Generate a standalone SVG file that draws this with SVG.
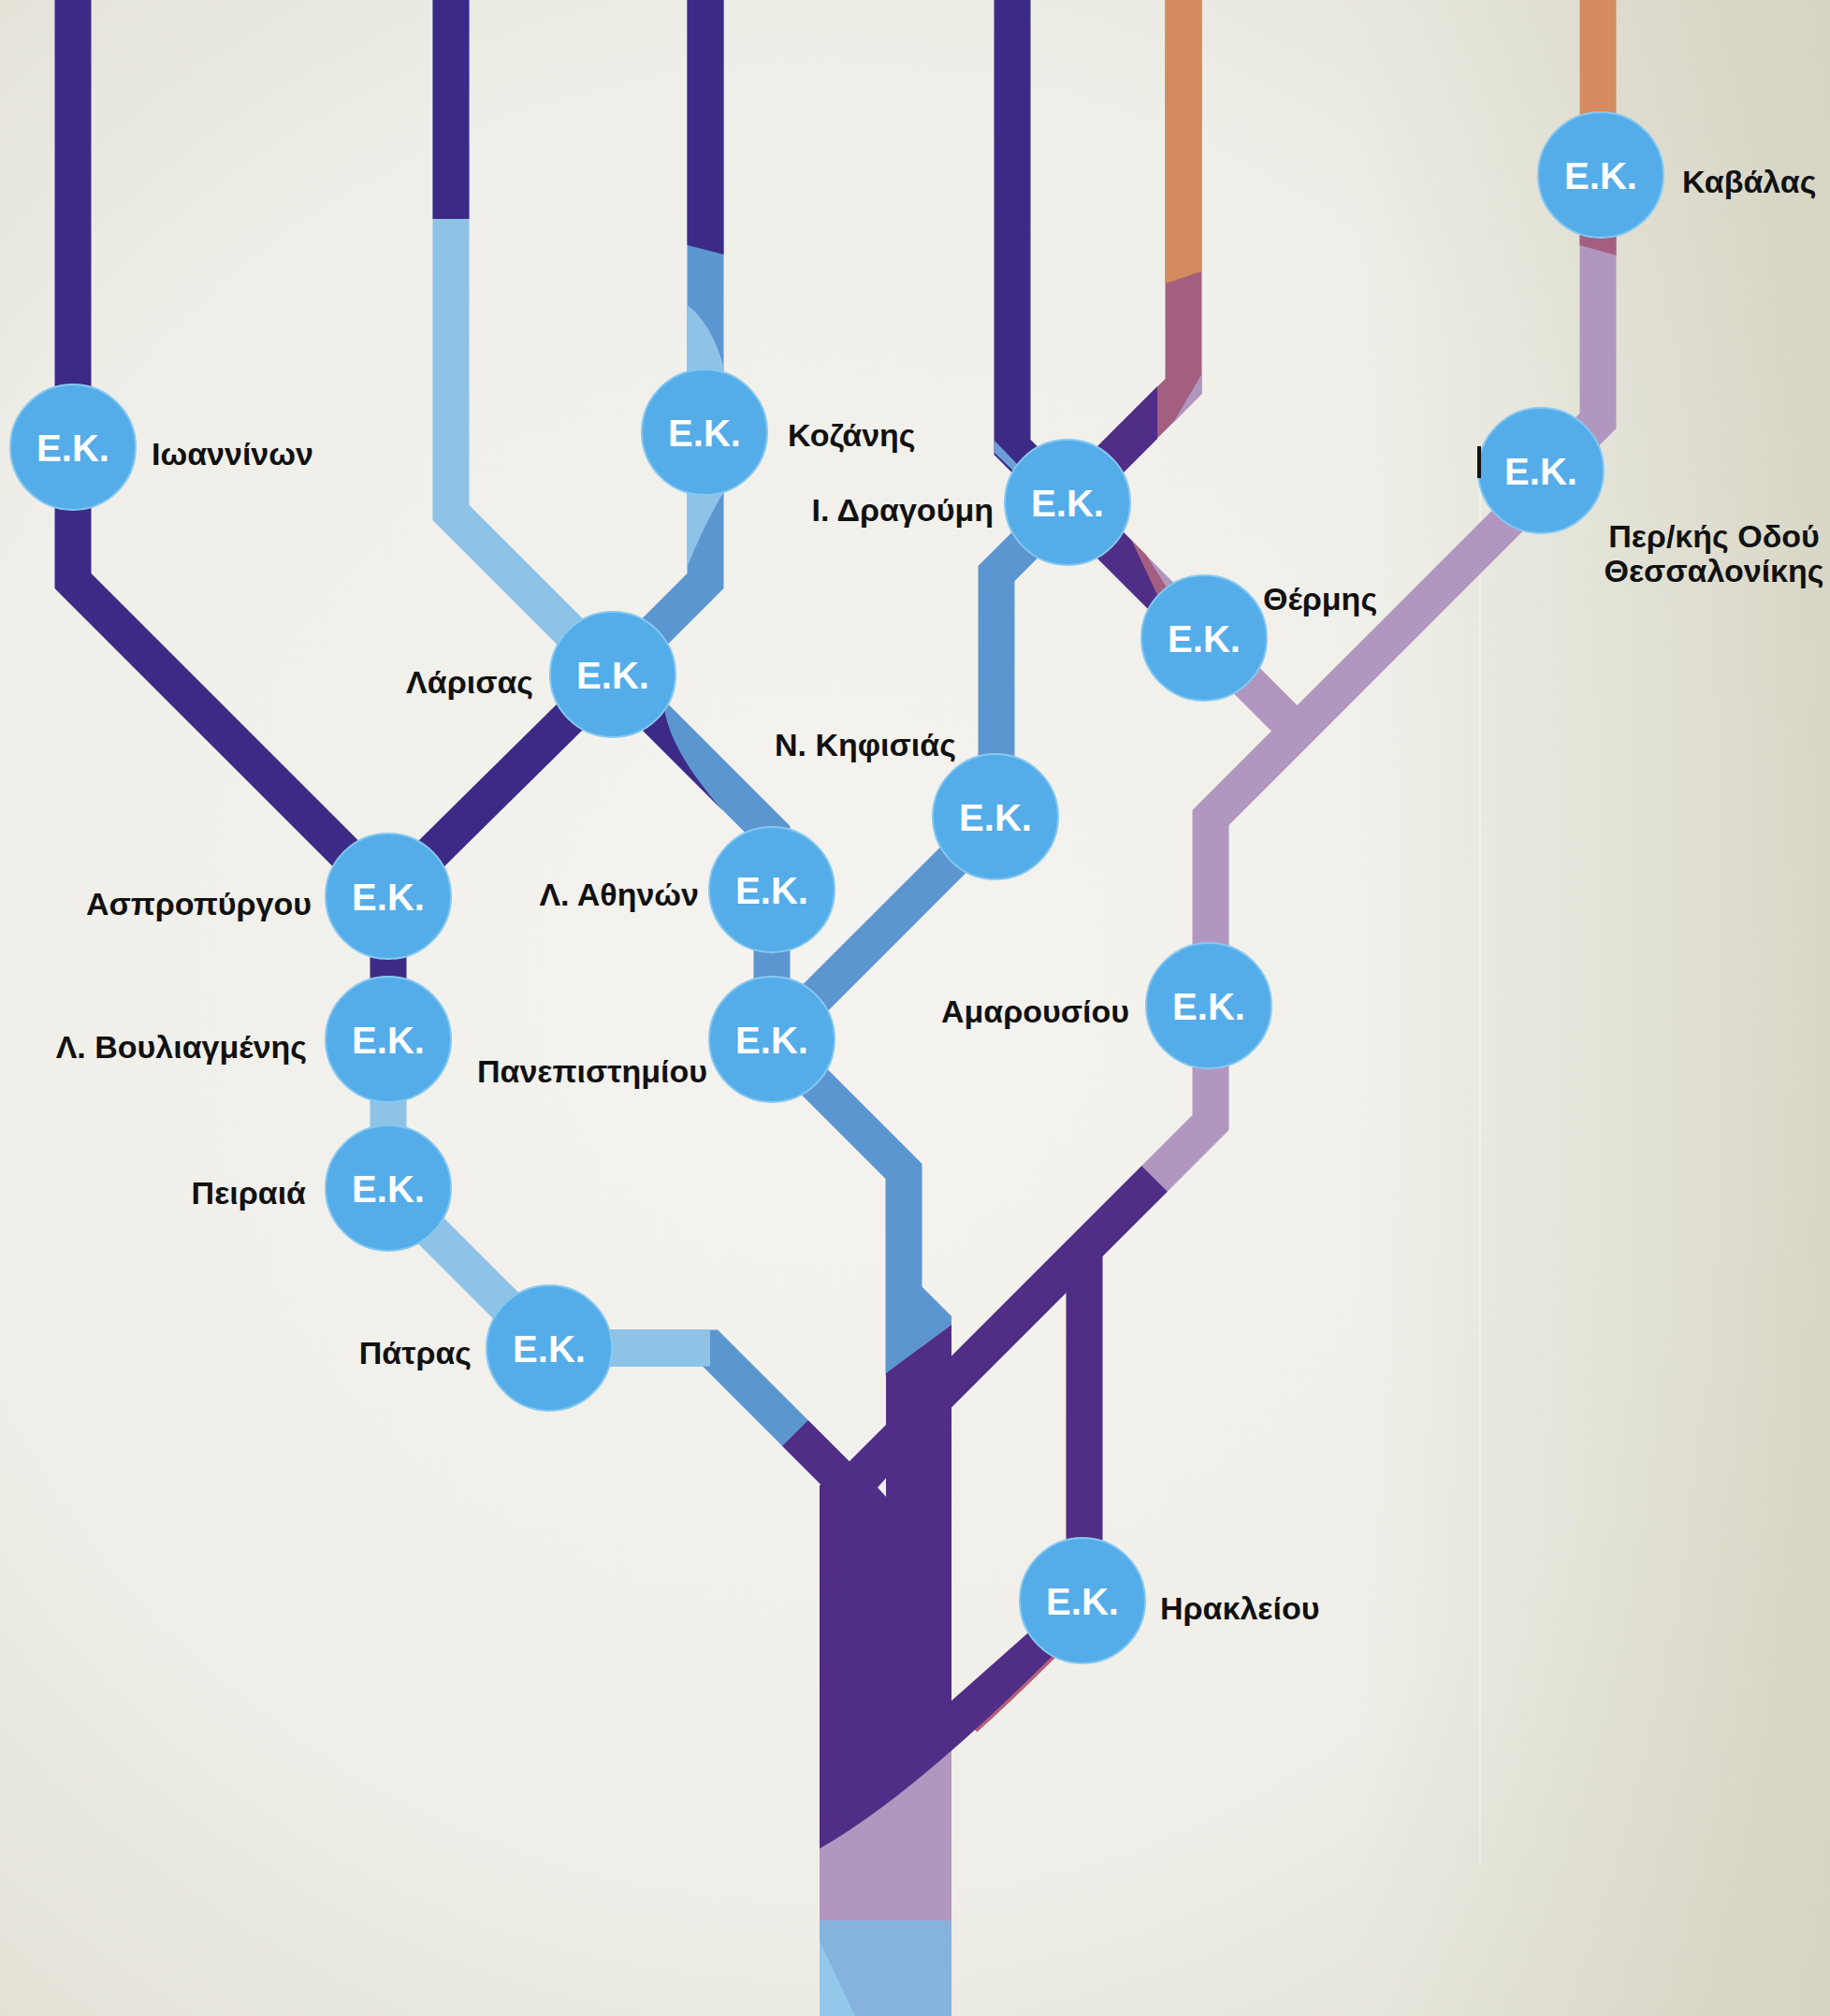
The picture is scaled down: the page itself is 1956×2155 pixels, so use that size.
<svg xmlns="http://www.w3.org/2000/svg" width="1956" height="2155" viewBox="0 0 1956 2155">
<style>
.ln{fill:none;stroke-width:39;stroke-linejoin:miter;stroke-linecap:butt}
.pu{stroke:#3d2a86}.pu2{stroke:#502d86}.lb{stroke:#8fc2e7}.mb{stroke:#5c96d0}.li{stroke:#b197bf}.ma{stroke:#a45f80}.or{stroke:#d38b5f}
.fpu{fill:#3d2a86}.fpu2{fill:#502d86}.flb{fill:#8fc2e7}.fmb{fill:#5c96d0}.fli{fill:#b197bf}.fma{fill:#a45f80}.for{fill:#d38b5f}
.nd circle{fill:#54ade9;stroke:#86c8f1;stroke-width:2}
.ek{font-family:"Liberation Sans",Arial,sans-serif;font-weight:bold;font-size:40px;fill:#ffffff;text-anchor:middle}
.lbl{font-family:"Liberation Sans",Arial,sans-serif;font-weight:bold;font-size:34px;fill:#111111}
.s{text-anchor:start}.e{text-anchor:end}.m{text-anchor:middle}
</style>
<defs>
<radialGradient id="bg" gradientUnits="userSpaceOnUse" cx="880" cy="1050" r="1500">
<stop offset="0" stop-color="#f4f3ef"/>
<stop offset="0.65" stop-color="#efeee8"/>
<stop offset="1" stop-color="#e1dfd3"/>
</radialGradient>
<linearGradient id="rs" gradientUnits="userSpaceOnUse" x1="1450" y1="0" x2="1956" y2="0">
<stop offset="0" stop-color="#d2d1be" stop-opacity="0"/>
<stop offset="1" stop-color="#d2d1be" stop-opacity="0.75"/>
</linearGradient>
</defs>
<rect x="0" y="0" width="1956" height="2155" fill="url(#bg)"/>
<rect x="1450" y="0" width="506" height="2155" fill="url(#rs)"/>
<line x1="1582" y1="510" x2="1582" y2="1993" stroke="#ffffff" stroke-width="2" opacity="0.4"/>

<g id="connectors">
<!-- Ioannina -->
<path class="ln pu" d="M78,-5 V621 L415,958"/>
<!-- Larisa left branch -->
<path class="ln lb" d="M482,-5 V548 L655,721"/>
<rect class="fpu" x="462.5" y="-5" width="39" height="239"/>
<!-- Kozani -->
<path class="ln mb" d="M754,-5 V621 L655,720"/>
<path class="fpu" d="M734.5,-5 H773.5 V272 L734.5,262 Z"/>
<path class="flb" d="M734.5,326 Q760,345 773.5,392 V420 H734.5 Z"/>
<path class="flb" d="M734.5,515 H773.5 V526 Q752,562 734.5,606 Z"/>
<!-- Larisa - Aspropyrgos -->
<path class="ln pu" d="M655,721 L415,958"/>
<!-- Larisa - L. Athinon -->
<path class="ln mb" d="M655,721 L825,891 V951"/>
<path class="fpu" d="M681,775 L772,866 Q710,795 709,747 Z"/>
<!-- L. Athinon - Panepistimiou -->
<path class="ln mb" d="M825,951 V1111"/>
<!-- Aspropyrgos - Vouliagmenis - Peiraia - Patras -->
<path class="ln pu" d="M415,958 V1111"/>
<path class="ln lb" d="M415,1111 V1270 L587,1442"/>
<!-- Patras - trunk -->
<path class="ln mb" d="M587,1441 H759 L900,1582"/>
<path class="ln lb" d="M587,1441 H759"/>
<path class="ln pu2" d="M850,1532 L900,1582"/>
<!-- Panepistimiou - trunk -->
<path class="ln mb" d="M825,1111 L966,1252 V1470"/>
<path class="fmb" d="M947,1375 H985 L1017,1407 V1416 L947,1468 Z"/>
<!-- Dragoumi - Kifisias - Panepistimiou -->
<path class="ln mb" d="M1141,537 L1065,613 V873 L825,1113"/>
<!-- Dragoumi top purple -->
<path class="ln pu" d="M1082,-5 V478 L1141,537"/>
<path fill="#6c9fd6" d="M1063,471 V484 L1088,508 L1091,500 Z"/>
<!-- Dragoumi top orange/mauve -->
<path class="ln ma" d="M1265,-5 V413 L1141,537"/>
<path class="for" d="M1245.5,-5 H1284.5 V290 L1245.5,303 Z"/>
<path class="fpu2" d="M1237,413 V469 L1160,546 V490 Z"/>
<path class="fli" d="M1284.5,400 V421 L1254,452 Z"/>
<!-- Dragoumi - Thermi -->
<path class="ln li" d="M1141,537 L1287,683"/>
<path class="fpu2" d="M1167,591 L1232,656 L1242,646 L1210,578 L1195,563 Z"/>
<path class="fma" d="M1210,578 L1242,646 L1252,636 L1225,593 Z"/>
<!-- Thermi - junction -->
<path class="ln li" d="M1287,682 L1390,785"/>
<!-- Kavala line -->
<path class="ln or" d="M1708,-5 V200"/>
<path class="ln li" d="M1708,187 V450 L1650,508"/>
<path class="fma" d="M1688.5,240 H1727.5 V273 L1688.5,262 Z"/>
<!-- Per/kis - Amarousiou - trunk -->
<path class="ln li" d="M1655,513 L1294,874 V1200 L1232,1262"/>
<path class="ln pu2" d="M1234,1260 L990,1504"/>
<!-- Irakleiou vertical -->
<path class="ln pu2" d="M1159,1330 V1711"/>
<!-- trunk -->
<rect class="fli" x="876" y="1860" width="141" height="194"/>
<rect fill="#85b3de" x="876" y="2053" width="141" height="102"/>
<path fill="#93c8ea" d="M876,2075 L914,2155 L876,2155 Z"/>
<path fill="none" stroke="#b4607a" stroke-width="7" d="M1130,1765 Q1083,1812 1042,1849"/>
<path class="fpu2" d="M947,1468 L1017,1416 V1818 L1105,1740 L1130,1765 Q974,1921 876,1976 V1588 L908,1562 L947,1523 Z"/>
<path fill="#eeedf0" d="M947,1580 L938,1590 L947,1600 Z"/>
</g>

<g id="node-ioanninon" class="nd"><circle cx="78" cy="478" r="67"/><text class="ek" x="78" y="493">E.K.</text><text class="lbl s" x="162" y="497">Ιωαννίνων</text></g>
<g id="node-kozanis" class="nd"><circle cx="753" cy="462" r="67"/><text class="ek" x="753" y="477">E.K.</text><text class="lbl s" x="842" y="477">Κοζάνης</text></g>
<g id="node-larisas" class="nd"><circle cx="655" cy="721" r="67"/><text class="ek" x="655" y="736">E.K.</text><text class="lbl e" x="570" y="741">Λάρισας</text></g>
<g id="node-aspropyrgou" class="nd"><circle cx="415" cy="958" r="67"/><text class="ek" x="415" y="973">E.K.</text><text class="lbl e" x="333" y="978">Ασπροπύργου</text></g>
<g id="node-vouliagmenis" class="nd"><circle cx="415" cy="1111" r="67"/><text class="ek" x="415" y="1126">E.K.</text><text class="lbl e" x="328" y="1131">Λ. Βουλιαγμένης</text></g>
<g id="node-peiraia" class="nd"><circle cx="415" cy="1270" r="67"/><text class="ek" x="415" y="1285">E.K.</text><text class="lbl e" x="327" y="1287">Πειραιά</text></g>
<g id="node-patras" class="nd"><circle cx="587" cy="1441" r="67"/><text class="ek" x="587" y="1456">E.K.</text><text class="lbl e" x="504" y="1458">Πάτρας</text></g>
<g id="node-athinon" class="nd"><circle cx="825" cy="951" r="67"/><text class="ek" x="825" y="966">E.K.</text><text class="lbl e" x="747" y="968">Λ. Αθηνών</text></g>
<g id="node-panepistimiou" class="nd"><circle cx="825" cy="1111" r="67"/><text class="ek" x="825" y="1126">E.K.</text><text class="lbl s" x="510" y="1157">Πανεπιστημίου</text></g>
<g id="node-kifisias" class="nd"><circle cx="1064" cy="873" r="67"/><text class="ek" x="1064" y="888">E.K.</text><text class="lbl s" x="828" y="808">Ν. Κηφισιάς</text></g>
<g id="node-dragoumi" class="nd"><circle cx="1141" cy="537" r="67"/><text class="ek" x="1141" y="552">E.K.</text><text class="lbl e" x="1062" y="557">Ι. Δραγούμη</text></g>
<g id="node-thermis" class="nd"><circle cx="1287" cy="682" r="67"/><text class="ek" x="1287" y="697">E.K.</text><text class="lbl s" x="1350" y="652">Θέρμης</text></g>
<g id="node-kavalas" class="nd"><circle cx="1711" cy="187" r="67"/><text class="ek" x="1711" y="202">E.K.</text><text class="lbl s" x="1798" y="206">Καβάλας</text></g>
<g id="node-perifereiakis" class="nd"><circle cx="1647" cy="503" r="67"/><text class="ek" x="1647" y="518">E.K.</text><text class="lbl m" x="1832" y="585">Περ/κής Οδού</text><text class="lbl m" x="1832" y="622">Θεσσαλονίκης</text></g>
<g id="node-amarousiou" class="nd"><circle cx="1292" cy="1075" r="67"/><text class="ek" x="1292" y="1090">E.K.</text><text class="lbl e" x="1207" y="1093">Αμαρουσίου</text></g>
<g id="node-irakleiou" class="nd"><circle cx="1157" cy="1711" r="67"/><text class="ek" x="1157" y="1726">E.K.</text><text class="lbl s" x="1240" y="1731">Ηρακλείου</text></g>
<rect x="1579" y="477" width="4" height="34" fill="#111111"/>
</svg>
